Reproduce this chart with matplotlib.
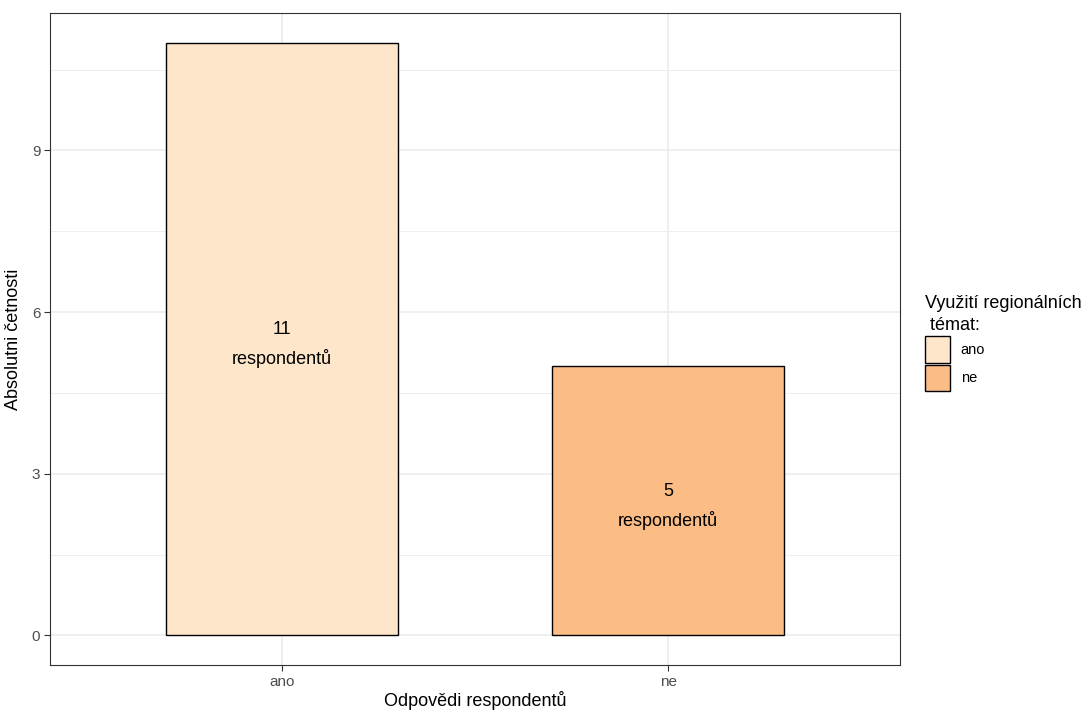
import matplotlib
matplotlib.use("Agg")
import matplotlib.pyplot as plt
from matplotlib.patches import Patch

categories = ["ano", "ne"]
values = [11, 5]
colors = ["#FEE6CB", "#FBBC86"]
labels = ["11\nrespondentů", "5\nrespondentů"]
yticks = [0, 3, 6, 9]

plt.rcParams['font.family'] = ['Liberation Sans', 'DejaVu Sans']

fig = plt.figure(figsize=(10.84, 7.11), dpi=100)
W, H = 1084, 711
ax = fig.add_axes([50 / W, 1 - 665 / H, (900 - 50) / W, (665 - 13) / H])

x = list(range(len(categories)))
ax.bar(x, values, width=0.6, color=colors, edgecolor="black", linewidth=1.0, zorder=3)
for xi, v, lab in zip(x, values, labels):
    ax.annotate(lab, (xi, v / 2), xytext=(0, -4), textcoords="offset points",
                ha="center", va="center", fontsize=13, linespacing=1.75, zorder=4)

ax.set_xlim(-0.6, 1.6)
ax.set_ylim(-0.55, 11.55)
ax.set_xticks(x)
ax.set_xticklabels(categories)
ax.set_yticks(yticks)
ax.set_yticks([1.5, 4.5, 7.5, 10.5], minor=True)
ax.grid(True, which="major", color="#EBEBEB", linewidth=1.1, zorder=0)
ax.grid(True, which="minor", axis="y", color="#EBEBEB", linewidth=0.6, zorder=0)
ax.tick_params(axis="both", which="major", length=4, width=0.8, color="#333333",
               labelcolor="#4D4D4D", labelsize=11, pad=3)
ax.tick_params(axis="both", which="minor", length=0)
for s in ax.spines.values():
    s.set_color("#333333")
    s.set_linewidth(0.8)
ax.set_axisbelow(True)

ax.set_xlabel("Odpovědi respondentů", fontsize=13, labelpad=2)
ax.set_ylabel("Absolutni četnosti", fontsize=13, labelpad=7)

handles = [Patch(facecolor=c, edgecolor="black", linewidth=1.0) for c in colors]
leg = fig.legend(handles, categories, title="Využití regionálních\n témat:",
                 loc="upper left", bbox_to_anchor=(922 / W, 1 - 292 / H),
                 frameon=False, fontsize=10.5, title_fontsize=13,
                 handlelength=1.75, handleheight=2.4, handletextpad=0.7,
                 labelspacing=0.15, borderaxespad=0, borderpad=0.2)
leg._legend_box.align = "left"
leg.get_title().set_linespacing(1.4)

fig.savefig("out.png", dpi=100)
